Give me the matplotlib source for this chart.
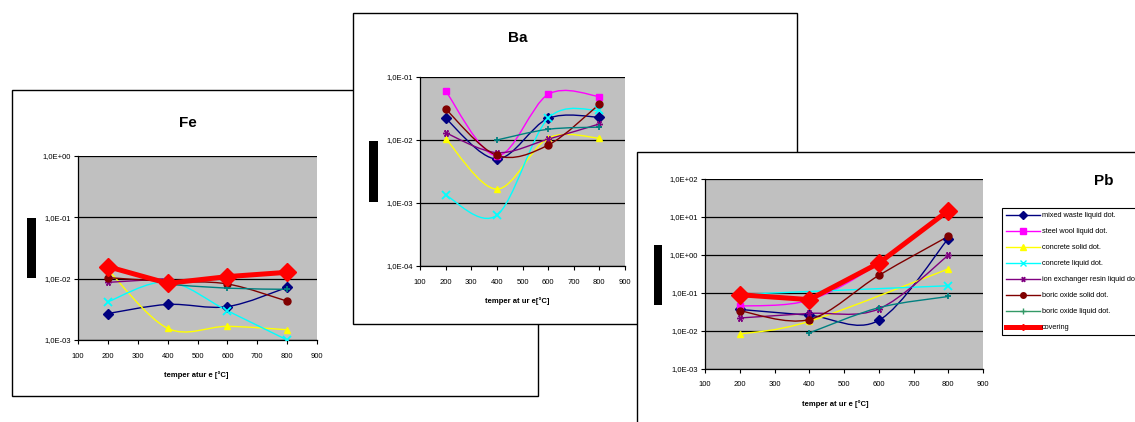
import numpy as np
import matplotlib
matplotlib.use("Agg")
import matplotlib.pyplot as plt
from matplotlib.patches import Rectangle, PathPatch
from matplotlib.path import Path
from matplotlib.lines import Line2D
from matplotlib.ticker import FixedLocator, NullLocator, FuncFormatter

plt.rcParams['font.family'] = ['Liberation Sans', 'DejaVu Sans']

# === Datos ===
temps = [200, 400, 600, 800]
x_ticks = [100, 200, 300, 400, 500, 600, 700, 800, 900]

series_labels = ["mixed waste liquid dot.", "steel wool liquid dot.", "concrete solid dot.",
                 "concrete liquid dot.", "ion exchanger resin liquid dot.", "boric oxide solid dot.",
                 "boric oxide liquid dot.", "covering"]
nan = np.nan

# Fe
fe_mixed_waste = [2.7e-3, 3.8e-3, 3.5e-3, 7.2e-3]
fe_steel_wool = [nan, nan, nan, nan]
fe_concrete_solid = [1.4e-2, 1.55e-3, 1.67e-3, 1.47e-3]
fe_concrete_liquid = [4.2e-3, 8.9e-3, 3.0e-3, 1.0e-3]
fe_ion_exchanger = [8.7e-3, 1.0e-2, nan, nan]
fe_boric_solid = [1.04e-2, 9.0e-3, 8.2e-3, 4.3e-3]
fe_boric_liquid = [nan, 8.1e-3, 7.0e-3, 6.7e-3]
fe_covering = [1.57e-2, 8.4e-3, 1.08e-2, 1.27e-2]

# Ba
ba_mixed_waste = [2.2e-2, 5.0e-3, 2.2e-2, 2.3e-2]
ba_steel_wool = [6.0e-2, 5.6e-3, 5.3e-2, 4.9e-2]
ba_concrete_solid = [1.05e-2, 1.66e-3, 1.07e-2, 1.07e-2]
ba_concrete_liquid = [1.33e-3, 6.4e-4, 2.2e-2, 2.95e-2]
ba_ion_exchanger = [1.3e-2, 6.3e-3, 1.03e-2, 1.8e-2]
ba_boric_solid = [3.1e-2, 5.7e-3, 8.3e-3, 3.7e-2]
ba_boric_liquid = [nan, 1.0e-2, 1.48e-2, 1.6e-2]
ba_covering = [nan, nan, nan, nan]

# Pb
pb_mixed_waste = [3.7e-2, 2.6e-2, 1.9e-2, 2.7]
pb_steel_wool = [4.5e-2, 6.5e-2, 0.6, 15.0]
pb_concrete_solid = [8.3e-3, 1.8e-2, nan, 0.43]
pb_concrete_liquid = [9.2e-2, nan, nan, 0.155]
pb_ion_exchanger = [2.2e-2, 2.9e-2, 3.8e-2, 0.98]
pb_boric_solid = [3.4e-2, 2.0e-2, 0.29, 3.1]
pb_boric_liquid = [nan, 8.9e-3, 4.1e-2, 8.1e-2]
pb_covering = [9.0e-2, 6.7e-2, 0.61, 14.7]

# === Estilos ===
W, H = 1135, 422
colors = ["#000080", "#FF00FF", "#FFFF00", "#00FFFF", "#800080", "#800000", "#008080", "#FF0000"]
markers = ["D", "s", "^", "x", (6, 2, 90), "o", "+", "D"]


def fx(px):
    return px / W


def fy(py):
    return 1 - py / H


def smooth_line(ax, ys, color, lw, z):
    """Curva suavizada tipo Excel (Catmull-Rom en espacio x / log y)."""
    pts = [(x, np.log10(y)) for x, y in zip(temps, ys) if not np.isnan(y)]
    if len(pts) < 2:
        return
    pts = np.array(pts)
    n = len(pts)
    verts = [pts[0]]
    codes = [Path.MOVETO]
    for i in range(n - 1):
        p0 = pts[max(i - 1, 0)]
        p1 = pts[i]
        p2 = pts[i + 1]
        p3 = pts[min(i + 2, n - 1)]
        c1 = p1 + (p2 - p0) / 6.0
        c2 = p2 - (p3 - p1) / 6.0
        verts += [c1, c2, p2]
        codes += [Path.CURVE4] * 3
    verts = np.array(verts)
    verts[:, 1] = 10 ** verts[:, 1]
    ax.add_patch(PathPatch(Path(verts, codes), fill=False, edgecolor=color, lw=lw, zorder=z))


def draw_panel(box, z):
    x0, y0, x1, y1 = box
    fig.add_artist(Rectangle((fx(x0), fy(y1)), fx(x1 - x0), (y1 - y0) / H, transform=fig.transFigure,
                             facecolor="white", edgecolor="black", lw=1.0, zorder=z))


def make_axes(area, ymin, ymax, z):
    x0, y0, x1, y1 = area
    ax = fig.add_axes([fx(x0), fy(y1), fx(x1 - x0), (y1 - y0) / H])
    ax.set_zorder(z)
    ax.set_facecolor("#C0C0C0")
    ax.set_yscale("log")
    ax.set_xlim(100, 900)
    ax.set_ylim(ymin, ymax)
    ax.xaxis.set_major_locator(FixedLocator(x_ticks))
    decades = [10.0 ** e for e in range(int(np.log10(ymin)), int(np.log10(ymax)) + 1)]
    ax.yaxis.set_major_locator(FixedLocator(decades))
    ax.yaxis.set_minor_locator(NullLocator())
    ax.yaxis.set_major_formatter(FuncFormatter(lambda v, p: f"1,0E{int(round(np.log10(v))):+03d}"))
    for s in ["top", "right"]:
        ax.spines[s].set_visible(False)
    for s in ["left", "bottom"]:
        ax.spines[s].set_linewidth(0.9)
    ax.tick_params(axis="both", direction="out", length=3, width=0.8, labelsize=5.5, pad=2)
    ax.tick_params(axis="x", pad=6)
    ax.grid(axis="y", color="black", lw=0.9)
    return ax


def plot_series(ax, data, ms=5):
    for i, ys in enumerate(data):
        if i == 7:
            ax.plot(temps, ys, color=colors[i], lw=3.6, marker="D", ms=9, zorder=4)
            continue
        smooth_line(ax, ys, colors[i], 1.0, 2.5)
        mew = 1.3 if markers[i] in ["x", "+"] else 1.0
        ax.plot(temps, ys, linestyle="none", marker=markers[i], ms=ms if i != 3 else 6,
                color=colors[i], mec=colors[i], mew=mew, zorder=3)


fig = plt.figure(figsize=(W / 100, H / 100), dpi=100)

# --- Fe ---
draw_panel((12, 90, 538, 396), 1)
ax_fe = make_axes((78, 156, 317, 340), 1e-3, 1e0, 1.1)
plot_series(ax_fe, [fe_mixed_waste, fe_steel_wool, fe_concrete_solid, fe_concrete_liquid,
                    fe_ion_exchanger, fe_boric_solid, fe_boric_liquid, fe_covering])
fig.text(fx(188), fy(123), "Fe", ha="center", va="center", fontsize=11, fontweight="bold", zorder=1.2)
fig.text(fx(196), fy(375), "temper atur e [°C]", ha="center", va="center", fontsize=5.5,
         fontweight="bold", zorder=1.2)
fig.add_artist(Rectangle((fx(27), fy(278)), fx(9), 60 / H, transform=fig.transFigure,
                         facecolor="black", edgecolor="none", zorder=1.2))

# --- Ba ---
draw_panel((353, 13, 797, 324), 2)
ax_ba = make_axes((420, 77, 625, 266), 1e-4, 1e-1, 2.1)
plot_series(ax_ba, [ba_mixed_waste, ba_steel_wool, ba_concrete_solid, ba_concrete_liquid,
                    ba_ion_exchanger, ba_boric_solid, ba_boric_liquid, ba_covering])
fig.text(fx(518), fy(38), "Ba", ha="center", va="center", fontsize=11, fontweight="bold", zorder=2.2)
fig.text(fx(517), fy(301), "temper at ur e[°C]", ha="center", va="center", fontsize=5.5,
         fontweight="bold", zorder=2.2)
fig.add_artist(Rectangle((fx(369), fy(202)), fx(9), 61 / H, transform=fig.transFigure,
                         facecolor="black", edgecolor="none", zorder=2.2))

# --- Pb ---
draw_panel((637, 152, 1145, 432), 3)
ax_pb = make_axes((705, 179, 983, 369), 1e-3, 1e2, 3.1)
plot_series(ax_pb, [pb_mixed_waste, pb_steel_wool, pb_concrete_solid, pb_concrete_liquid,
                    pb_ion_exchanger, pb_boric_solid, pb_boric_liquid, pb_covering])
fig.text(fx(1104), fy(181), "Pb", ha="center", va="center", fontsize=11, fontweight="bold", zorder=3.2)
fig.text(fx(835), fy(404), "temper at ur e [°C]", ha="center", va="center", fontsize=5.5,
         fontweight="bold", zorder=3.2)
fig.add_artist(Rectangle((fx(654), fy(305)), fx(8), 60 / H, transform=fig.transFigure,
                         facecolor="black", edgecolor="none", zorder=3.2))

# leyenda
leg_colors = colors[:6] + ["#339966", "#FF0000"]
handles = []
for i, lab in enumerate(series_labels):
    if i == 7:
        handles.append(Line2D([], [], color=leg_colors[i], lw=3.6, marker="D", ms=3, label=lab))
    else:
        handles.append(Line2D([], [], color=leg_colors[i], lw=1.0, marker=markers[i], ms=4,
                              mec=leg_colors[i], label=lab))
leg = ax_pb.legend(handles=handles, loc="upper left", bbox_to_anchor=(fx(1002), fy(208)),
                   bbox_transform=fig.transFigure, fontsize=5.3, frameon=True, fancybox=False,
                   edgecolor="black", framealpha=1, handlelength=4.6, handletextpad=0.3,
                   labelspacing=1.2, borderpad=0.55, borderaxespad=0)
leg.get_frame().set_linewidth(0.8)

fig.savefig("out.png", dpi=100)
